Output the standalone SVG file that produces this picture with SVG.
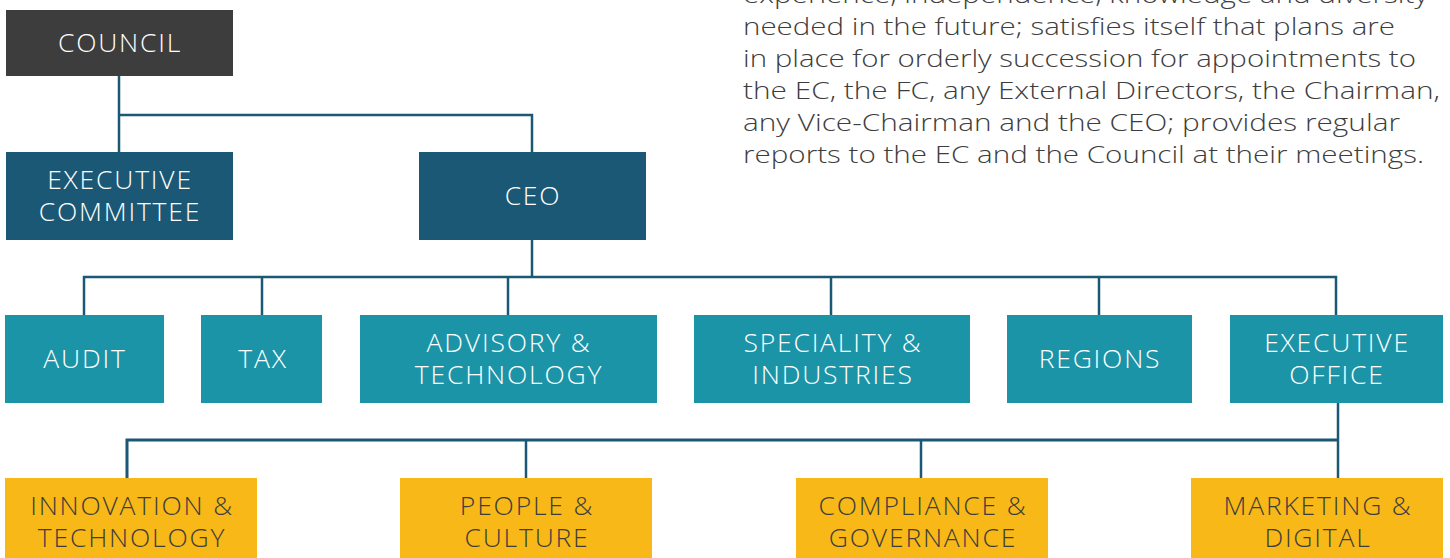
<svg xmlns="http://www.w3.org/2000/svg" width="1450" height="558" viewBox="0 0 1450 558">
<style>
text{font-family:"Open Sans","Liberation Sans",sans-serif;font-weight:300;font-size:26.5px;letter-spacing:1.8px;text-anchor:middle}
.dark{fill:#3d3d3d}
.navy{fill:#1a5876}
.teal{fill:#1b94a7}
.yel{fill:#f8b817}
.w{fill:#ffffff}
.k{fill:#3d3d3d}
.con{fill:none;stroke:#1a5876;stroke-width:2.5}
.para{text-anchor:start;fill:#3d3d3d;font-size:24.5px;letter-spacing:0}
</style>
<rect width="1450" height="558" fill="#ffffff"/>
<g id="connectors">
<polyline class="con" points="119,76 119,152"/>
<polyline class="con" points="119,115 532,115 532,152"/>
<polyline class="con" points="532,240 532,277"/>
<polyline class="con" points="84,315 84,277 1336,277 1336,315"/>
<line class="con" x1="262" y1="277" x2="262" y2="315"/>
<line class="con" x1="508" y1="277" x2="508" y2="315"/>
<line class="con" x1="831" y1="277" x2="831" y2="315"/>
<line class="con" x1="1099" y1="277" x2="1099" y2="315"/>
<polyline class="con" points="1338,403 1338,478"/>
<polyline class="con" points="127,478 127,440 1338,440" style="stroke-width:3"/>
<line class="con" x1="526" y1="440" x2="526" y2="478"/>
<line class="con" x1="921" y1="440" x2="921" y2="478"/>
</g>
<g id="council"><rect class="dark" x="6" y="10" width="227" height="66"/><text class="w" x="120" y="52">COUNCIL</text></g>
<g id="executive-committee"><rect class="navy" x="6" y="152" width="227" height="88"/><text class="w" x="120" y="189">EXECUTIVE</text><text class="w" x="120" y="221">COMMITTEE</text></g>
<g id="ceo"><rect class="navy" x="419" y="152" width="227" height="88"/><text class="w" x="533" y="205">CEO</text></g>
<g id="audit"><rect class="teal" x="5" y="315" width="159" height="88"/><text class="w" x="85" y="368">AUDIT</text></g>
<g id="tax"><rect class="teal" x="201" y="315" width="121" height="88"/><text class="w" x="263" y="368">TAX</text></g>
<g id="advisory"><rect class="teal" x="360" y="315" width="297" height="88"/><text class="w" x="509" y="352">ADVISORY &amp;</text><text class="w" x="509" y="384">TECHNOLOGY</text></g>
<g id="speciality"><rect class="teal" x="694" y="315" width="276" height="88"/><text class="w" x="833" y="352">SPECIALITY &amp;</text><text class="w" x="833" y="384">INDUSTRIES</text></g>
<g id="regions"><rect class="teal" x="1007" y="315" width="185" height="88"/><text class="w" x="1100" y="368">REGIONS</text></g>
<g id="executive-office"><rect class="teal" x="1230" y="315" width="213" height="88"/><text class="w" x="1337" y="352">EXECUTIVE</text><text class="w" x="1337" y="384">OFFICE</text></g>
<g id="innovation"><rect class="yel" x="5" y="478" width="252" height="80"/><text class="k" x="132" y="515">INNOVATION &amp;</text><text class="k" x="132" y="547">TECHNOLOGY</text></g>
<g id="people"><rect class="yel" x="400" y="478" width="252" height="80"/><text class="k" x="527" y="515">PEOPLE &amp;</text><text class="k" x="527" y="547">CULTURE</text></g>
<g id="compliance"><rect class="yel" x="796" y="478" width="252" height="80"/><text class="k" x="923" y="515">COMPLIANCE &amp;</text><text class="k" x="923" y="547">GOVERNANCE</text></g>
<g id="marketing"><rect class="yel" x="1191" y="478" width="252" height="80"/><text class="k" x="1318" y="515">MARKETING &amp;</text><text class="k" x="1318" y="547">DIGITAL</text></g>
<g id="description">
<text class="para" x="743" y="3" textLength="685" lengthAdjust="spacingAndGlyphs">experience, independence, knowledge and diversity</text>
<text class="para" x="743" y="35" textLength="652" lengthAdjust="spacingAndGlyphs">needed in the future; satisfies itself that plans are</text>
<text class="para" x="743" y="67" textLength="673" lengthAdjust="spacingAndGlyphs">in place for orderly succession for appointments to</text>
<text class="para" x="743" y="99" textLength="697" lengthAdjust="spacingAndGlyphs">the EC, the FC, any External Directors, the Chairman,</text>
<text class="para" x="743" y="131" textLength="657" lengthAdjust="spacingAndGlyphs">any Vice-Chairman and the CEO; provides regular</text>
<text class="para" x="743" y="163" textLength="681" lengthAdjust="spacingAndGlyphs">reports to the EC and the Council at their meetings.</text>
</g>
</svg>
